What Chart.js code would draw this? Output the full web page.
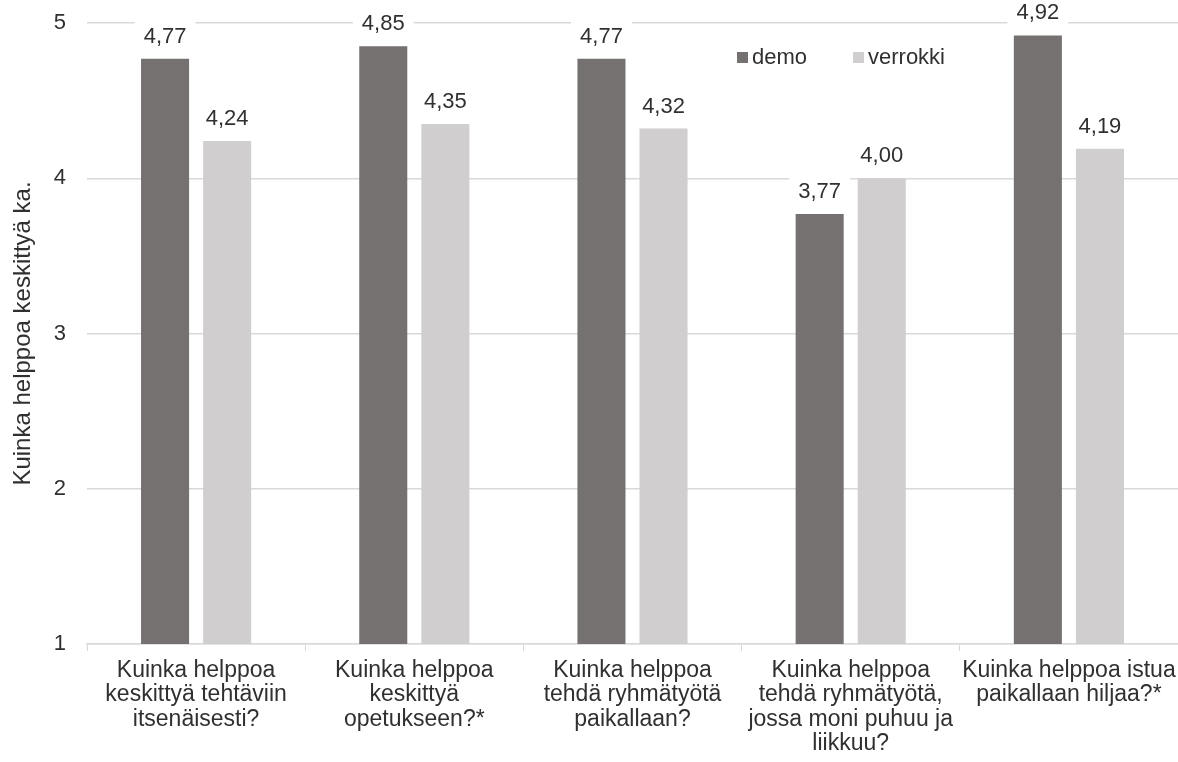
<!DOCTYPE html>
<html>
<head>
<meta charset="utf-8">
<script src="https://cdn.jsdelivr.net/npm/chart.js@4"></script>
<style>
  html, body { margin: 0; padding: 0; background: #fff; }
  #wrap { width: 1178px; height: 762px; }
</style>
</head>
<body>
<div id="wrap"><canvas id="chart"></canvas></div>
<script>
// Data
const categories = [
    ['Kuinka helppoa', 'keskittyä tehtäviin', 'itsenäisesti?'],
    ['Kuinka helppoa', 'keskittyä', 'opetukseen?*'],
    ['Kuinka helppoa', 'tehdä ryhmätyötä', 'paikallaan?'],
    ['Kuinka helppoa', 'tehdä ryhmätyötä,', 'jossa moni puhuu ja', 'liikkuu?'],
    ['Kuinka helppoa istua', 'paikallaan hiljaa?*']
];
const demoValues = [4.77, 4.85, 4.77, 3.77, 4.92];
const verrokkiValues = [4.24, 4.35, 4.32, 4.00, 4.19];
const yTicks = [1, 2, 3, 4, 5];

const colors = {
    demo: '#767171',
    verrokki: '#D0CECE',
    grid: '#D9D9D9',
    text: '#303030'
};
const FONT = 'Liberation Sans, Arial, sans-serif';
const FSIZE = 22;

// value labels above bars, with a white box behind them (like the original)
const valueLabels = {
    id: 'valueLabels',
    afterDatasetsDraw(chart) {
        const ctx = chart.ctx;
        ctx.save();
        ctx.font = FSIZE + 'px ' + FONT;
        ctx.textAlign = 'center';
        ctx.textBaseline = 'alphabetic';
        chart.data.datasets.forEach((ds, i) => {
            chart.getDatasetMeta(i).data.forEach((bar, j) => {
                const txt = ds.data[j].toFixed(2).replace('.', ',');
                const w = ctx.measureText(txt).width;
                ctx.fillStyle = '#fff';
                ctx.fillRect(bar.x - w / 2 - 9, bar.y - 40, w + 18, 30);
                ctx.fillStyle = colors.text;
                ctx.fillText(txt, bar.x, bar.y - 16);
            });
        });
        ctx.restore();
    }
};

// legend drawn inside the plot area, top right
const innerLegend = {
    id: 'innerLegend',
    afterDraw(chart) {
        const ctx = chart.ctx;
        const area = chart.chartArea;
        ctx.save();
        ctx.font = FSIZE + 'px ' + FONT;
        ctx.textBaseline = 'middle';
        let x = area.left + 650;
        const y = area.top + 34;
        chart.data.datasets.forEach(ds => {
            ctx.fillStyle = ds.backgroundColor;
            ctx.fillRect(x, y - 5, 11, 11);
            ctx.fillStyle = colors.text;
            ctx.fillText(ds.label, x + 15, y + 1);
            x += 116;
        });
        ctx.restore();
    }
};

new Chart(document.getElementById('chart').getContext('2d'), {
    type: 'bar',
    data: {
        labels: categories,
        datasets: [{
            label: 'demo',
            data: demoValues,
            backgroundColor: colors.demo
        }, {
            label: 'verrokki',
            data: verrokkiValues,
            backgroundColor: colors.verrokki
        }]
    },
    options: {
        responsive: true,
        maintainAspectRatio: false,
        animation: false,
        layout: { padding: { top: 23, right: 0, bottom: 0, left: 0 } },
        plugins: {
            legend: { display: false },
            tooltip: { enabled: false }
        },
        datasets: {
            bar: { barPercentage: 0.774, categoryPercentage: 0.569 }
        },
        scales: {
            x: {
                grid: {
                    offset: true,
                    drawOnChartArea: false,
                    color: colors.grid,
                    tickLength: 7
                },
                border: { color: colors.grid, width: 1.5 },
                ticks: {
                    color: colors.text,
                    font: { family: FONT, size: 23, lineHeight: '24.5px' },
                    padding: 7,
                    maxRotation: 0,
                    autoSkip: false
                },
                afterFit(scale) {
                    scale.height = 118;
                    scale.paddingLeft = 0;
                    scale.paddingRight = 0;
                }
            },
            y: {
                min: 1,
                max: 5,
                afterBuildTicks(scale) {
                    scale.ticks = yTicks.map(v => ({ value: v }));
                },
                grid: { color: colors.grid, drawTicks: false, lineWidth: 1.5 },
                border: { display: false },
                ticks: {
                    color: colors.text,
                    font: { family: FONT, size: FSIZE },
                    padding: 21
                },
                title: {
                    display: true,
                    text: 'Kuinka helppoa keskittyä ka.',
                    color: colors.text,
                    font: { family: FONT, size: 24 },
                    padding: { top: 9, bottom: 0 }
                },
                afterFit(scale) {
                    scale.width = 87;
                    scale.paddingTop = 0;
                    scale.paddingBottom = 0;
                }
            }
        }
    },
    plugins: [valueLabels, innerLegend]
});
</script>
</body>
</html>
